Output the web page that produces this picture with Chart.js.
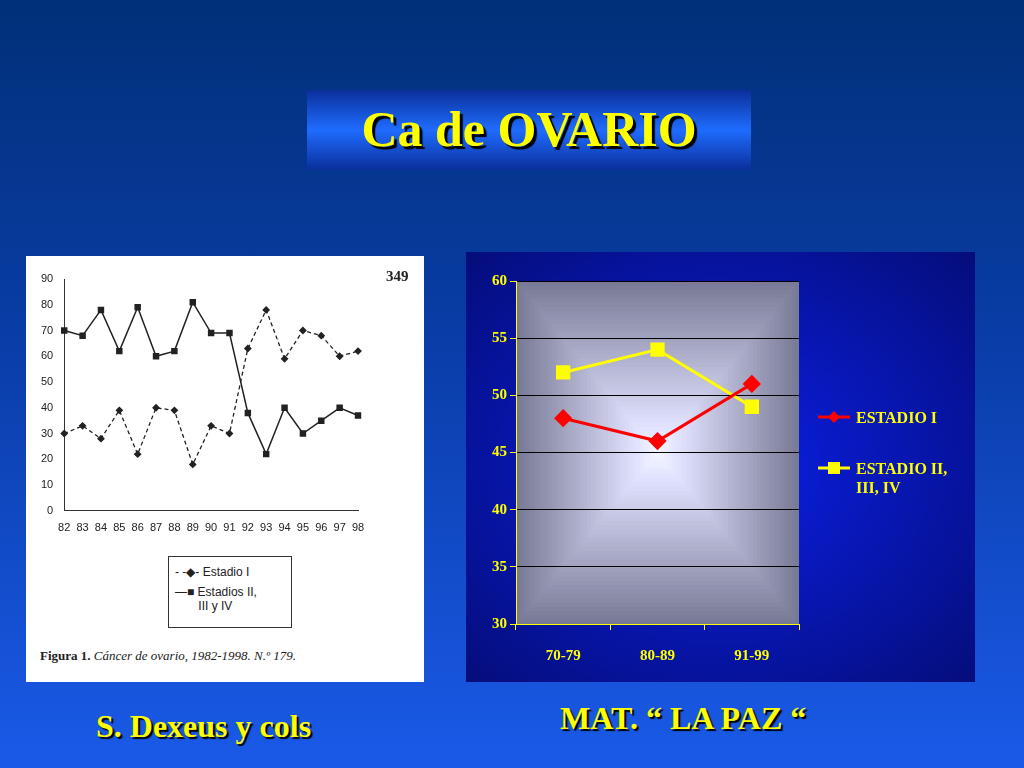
<!DOCTYPE html>
<html><head><meta charset="utf-8">
<script src="https://cdn.jsdelivr.net/npm/chart.js@4"></script>
<style>
body{margin:0;width:1024px;height:768px;overflow:hidden;background:linear-gradient(#003078 0%,#0a3da8 45%,#1a5ae8 100%);font-family:"Liberation Serif",serif;position:relative}
.t{position:absolute;left:307px;top:90px;width:444px;height:80px;background:linear-gradient(#0a2f9a,#1f6cff 50%,#0a2f9a);color:#ff0;font-weight:bold;font-size:50px;text-align:center;line-height:78px;text-shadow:3px 3px 1px #000}
.cap{position:absolute;color:#ff0;font-weight:bold;font-size:32px;text-shadow:2px 2px 1px #000}
#lp{position:absolute;left:26px;top:256px;width:398px;height:426px;background:#fff}
#rp{position:absolute;left:466px;top:252px;width:509px;height:430px;background:radial-gradient(#0a20e8,#050d7a)}
.lg{position:absolute;left:142px;top:300px;width:122px;height:70px;border:1px solid #333;font-family:"Liberation Sans",sans-serif;font-size:12px;color:#222}
.rl{position:absolute;color:#ff0;font-weight:bold;font-size:16px;line-height:19px}
</style></head><body>
<div class="t">Ca de OVARIO</div>
<div id="lp"><canvas id="c1" width="398" height="290"></canvas>
<div style="position:absolute;left:360px;top:12px;font-weight:bold;font-size:15px;color:#222">349</div>
<div class="lg">
<div style="position:absolute;left:6px;top:8px">- -◆- Estadio I</div>
<div style="position:absolute;left:6px;top:28px">—■ Estadios II,<br>&nbsp;&nbsp;&nbsp;&nbsp;&nbsp;&nbsp;&nbsp;III y IV</div>
</div>
<div style="position:absolute;left:14px;top:392px;font-size:13px;color:#222"><b>Figura 1.</b> <i>Cáncer de ovario, 1982-1998. N.º 179.</i></div>
</div>
<div id="rp"><canvas id="c2" width="509" height="430"></canvas>
<div class="rl" style="left:390px;top:156px">ESTADIO I</div>
<div class="rl" style="left:390px;top:207px">ESTADIO II,<br>III, IV</div>
<canvas id="lk" width="40" height="80" style="position:absolute;left:350px;top:150px"></canvas>
</div>
<div class="cap" style="left:96px;top:708px">S. Dexeus y cols</div>
<div class="cap" style="left:560px;top:700px">MAT. “ LA PAZ “</div>
<script>
const years = ['82','83','84','85','86','87','88','89','90','91','92','93','94','95','96','97','98'];
const estadioI = [30,33,28,39,22,40,39,18,33,30,63,78,59,70,68,60,62];
const estadiosII = [70,68,78,62,79,60,62,81,69,69,38,22,40,30,35,40,37];
const periods = ['70-79','80-89','91-99'];
const pazI = [48,46,51];
const pazII = [52,54,49];

new Chart(document.getElementById('c1'), {
  type: 'line',
  data: { labels: years, datasets: [
    { data: estadioI, borderColor: '#222', borderWidth: 1.3, borderDash: [4,3], pointStyle: 'rectRot', pointRadius: 3, backgroundColor: '#222', tension: 0 },
    { data: estadiosII, borderColor: '#222', borderWidth: 1.5, pointStyle: 'rect', pointRadius: 3.5, backgroundColor: '#222', tension: 0 }
  ]},
  options: {
    responsive: false, animation: false,
    layout: { padding: { left: 12, right: 66, top: 23, bottom: 8 } },
    plugins: { legend: { display: false }, tooltip: { enabled: false } },
    scales: {
      x: { offset: false, grid: { display: false }, border: { color: '#333' },
           ticks: { autoSkip: false, maxRotation: 0, minRotation: 0, color: '#222', font: { family: 'Liberation Sans', size: 11 } } },
      y: { min: 0, max: 90, grid: { display: false }, border: { color: '#333' }, ticks: { stepSize: 10, color: '#222', font: { family: 'Liberation Sans', size: 11 } } }
    }
  }
});

const bgPlugin = {
  id: 'bg',
  beforeDraw(chart) {
    const a = chart.chartArea, ctx = chart.ctx, n = 40;
    for (let i = 0; i < n; i++) {
      const f = i / n, v = Math.round(125 + 125 * f);
      ctx.fillStyle = 'rgb(' + (v - 5) + ',' + (v - 3) + ',' + Math.min(255, v + 25) + ')';
      const dx = a.width / 2 * f, dy = a.height / 2 * f;
      ctx.fillRect(a.left + dx, a.top + dy, a.width - 2 * dx, a.height - 2 * dy);
    }
  }
};

new Chart(document.getElementById('c2'), {
  type: 'line',
  data: { labels: periods, datasets: [
    { data: pazI, borderColor: '#f00', backgroundColor: '#f00', borderWidth: 3, pointStyle: 'rectRot', pointRadius: 7, tension: 0 },
    { data: pazII, borderColor: '#ff0', backgroundColor: '#ff0', borderWidth: 3, pointStyle: 'rect', pointRadius: 8, tension: 0 }
  ]},
  options: {
    responsive: false, animation: false,
    layout: { padding: { left: 23, right: 176, top: 29, bottom: 0 } },
    plugins: { legend: { display: false }, tooltip: { enabled: false } },
    scales: {
      x: { offset: true, grid: { drawOnChartArea: false, color: '#ff0', tickLength: 6, offset: true }, border: { color: '#ff0' },
           ticks: { color: '#ff0', padding: 17, font: { family: 'Liberation Serif', size: 15, weight: 'bold' } } },
      y: { min: 30, max: 60, grid: { color: '#000', tickLength: 6, tickColor: '#ff0' }, border: { color: '#ff0' },
           ticks: { stepSize: 5, color: '#ff0', font: { family: 'Liberation Serif', size: 15, weight: 'bold' } } }
    }
  },
  plugins: [bgPlugin]
});

const k = document.getElementById('lk').getContext('2d');
k.lineWidth = 3;
k.strokeStyle = '#f00'; k.beginPath(); k.moveTo(2,15); k.lineTo(34,15); k.stroke();
k.fillStyle = '#f00'; k.beginPath(); k.moveTo(18,9); k.lineTo(24,15); k.lineTo(18,21); k.lineTo(12,15); k.fill();
k.strokeStyle = '#ff0'; k.beginPath(); k.moveTo(2,66); k.lineTo(34,66); k.stroke();
k.fillStyle = '#ff0'; k.fillRect(12,60,12,12);
</script>
</body></html>
